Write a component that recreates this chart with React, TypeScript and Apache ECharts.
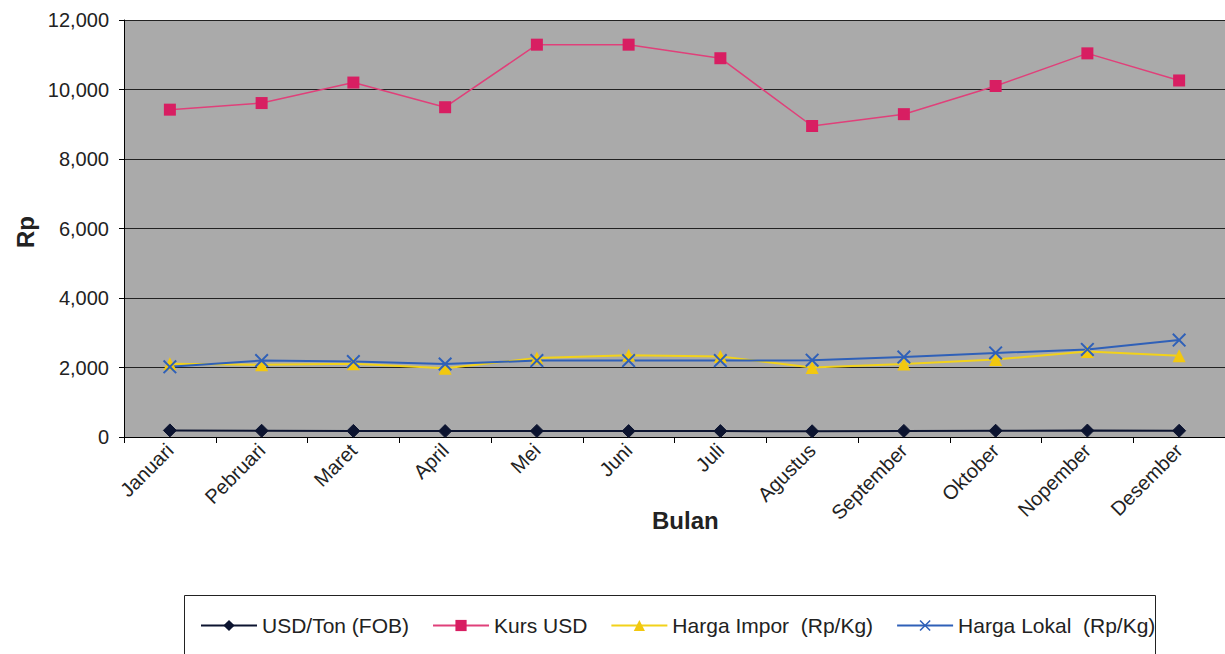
import React, { useEffect, useRef } from "react";
import * as echarts from "echarts";

const months = ["Januari", "Pebruari", "Maret", "April", "Mei", "Juni", "Juli", "Agustus", "September", "Oktober", "Nopember", "Desember"];
const usdTon = [190, 180, 175, 170, 175, 170, 170, 165, 175, 180, 185, 180];
const kursUsd = [9420, 9610, 10200, 9490, 11290, 11290, 10900, 8950, 9290, 10100, 11040, 10260];
const hargaImpor = [2110, 2080, 2110, 1980, 2270, 2350, 2320, 2000, 2100, 2230, 2460, 2340];
const hargaLokal = [2020, 2200, 2170, 2100, 2200, 2200, 2200, 2210, 2300, 2420, 2520, 2790];
const yTicks = { min: 0, max: 12000, interval: 2000 };

const FONT = "'Liberation Sans', Arial, sans-serif";
const crossPath = "path://M0,1 L1,0 L5,4 L9,0 L10,1 L6,5 L10,9 L9,10 L5,6 L1,10 L0,9 L4,5 Z";

export default function App() {
  const ref = useRef<HTMLDivElement>(null);
  useEffect(() => {
    if (!ref.current) return;
    const chart = echarts.init(ref.current, null, { renderer: "svg" });
    chart.setOption({
      animation: false,
      backgroundColor: "#ffffff",
      textStyle: { fontFamily: FONT },
      grid: {
        left: 124,
        top: 20,
        right: 0,
        height: 417,
        show: true,
        backgroundColor: "#aaaaaa",
        borderWidth: 0,
      },
      xAxis: {
        type: "category",
        data: months,
        boundaryGap: true,
        axisLine: { show: true, lineStyle: { color: "#000", width: 1 } },
        axisTick: { show: true, alignWithLabel: false, length: 6, lineStyle: { color: "#000" } },
        axisLabel: { rotate: 45, fontSize: 20, color: "#222", fontFamily: FONT, margin: 10, interval: 0 },
      },
      yAxis: {
        type: "value",
        min: yTicks.min,
        max: yTicks.max,
        interval: yTicks.interval,
        axisLine: { show: true, lineStyle: { color: "#000", width: 1 } },
        axisTick: { show: true, length: 5, lineStyle: { color: "#000" } },
        axisLabel: {
          fontSize: 20,
          color: "#222",
          fontFamily: FONT,
          margin: 15,
          formatter: (v: number) => v.toLocaleString("en-US"),
        },
        splitLine: { show: true, lineStyle: { color: "#222", width: 1 } },
      },
      legend: {
        left: 195,
        top: 610,
        itemGap: 23,
        itemWidth: 56,
        itemHeight: 14,
        textStyle: { fontSize: 21, color: "#222", fontFamily: FONT },
        data: ["USD/Ton (FOB)", "Kurs USD", "Harga Impor  (Rp/Kg)", "Harga Lokal  (Rp/Kg)"],
      },
      graphic: [
        {
          type: "rect",
          left: 182,
          top: 593,
          shape: { width: 971, height: 70 },
          style: { fill: "none", stroke: "#222", lineWidth: 1 },
          silent: true,
        },
        {
          type: "text",
          left: 652,
          top: 508,
          style: { text: "Bulan", font: `bold 24px ${FONT}`, fill: "#222" },
        },
        {
          type: "text",
          x: 13,
          y: 248,
          rotation: Math.PI / 2,
          style: { text: "Rp", font: `bold 24px ${FONT}`, fill: "#222" },
        },
      ],
      series: [
        {
          name: "USD/Ton (FOB)",
          type: "line",
          data: usdTon,
          symbol: "diamond",
          symbolSize: 13,
          lineStyle: { color: "#0c1430", width: 2 },
          itemStyle: { color: "#0c1430", borderColor: "#0c1430" },
        },
        {
          name: "Kurs USD",
          type: "line",
          data: kursUsd,
          symbol: "rect",
          symbolSize: 12,
          lineStyle: { color: "#e0407a", width: 1.5 },
          itemStyle: { color: "#d81e62" },
        },
        {
          name: "Harga Impor  (Rp/Kg)",
          type: "line",
          data: hargaImpor,
          symbol: "triangle",
          symbolSize: 13,
          lineStyle: { color: "#f2d21a", width: 2 },
          itemStyle: { color: "#f2c80f" },
        },
        {
          name: "Harga Lokal  (Rp/Kg)",
          type: "line",
          data: hargaLokal,
          symbol: crossPath,
          symbolSize: 14,
          lineStyle: { color: "#2f60b8", width: 2 },
          itemStyle: { color: "#2f60b8" },
        },
      ],
    });
    return () => chart.dispose();
  }, []);
  return (
    <div
      ref={ref}
      style={{ position: "fixed", left: 0, top: 0, width: 1225, height: 654 }}
    />
  );
}
